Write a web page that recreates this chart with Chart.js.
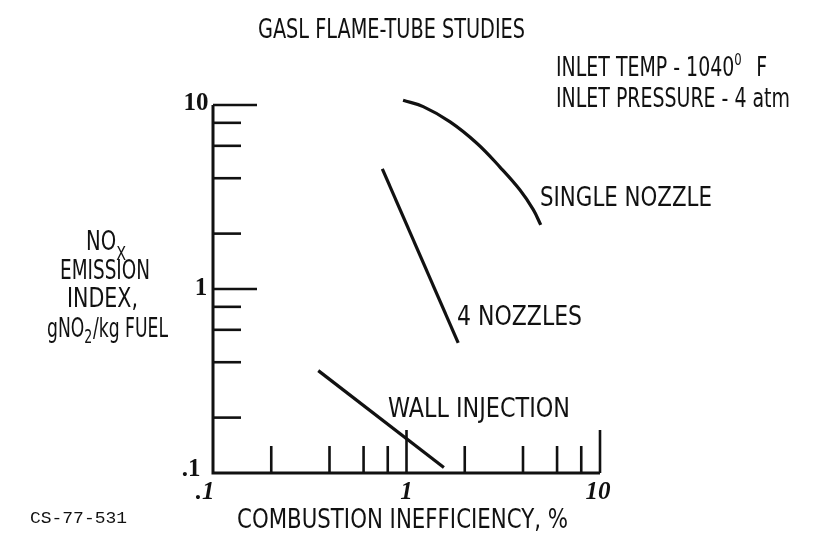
<!DOCTYPE html>
<html>
<head>
<meta charset="utf-8">
<script src="https://cdn.jsdelivr.net/npm/chart.js@4"></script>
<style>
html,body{margin:0;padding:0;background:#fff;}
#wrap{width:835px;height:538px;}
</style>
</head>
<body>
<div id="wrap"><canvas id="c" width="835" height="538"></canvas></div>
<script>
// ---- data ----
const xTickMajor = [0.1, 1, 10];
const xTickLabels = ['.1', '1', '10'];
const xTickMinor = [0.2, 0.4, 0.6, 0.8, 2, 4, 6, 8];
const yTickMajor = [0.1, 1, 10];
const yTickLabels = ['.1', '1', '10'];
const yTickMinor = [0.2, 0.4, 0.6, 0.8, 2, 4, 6, 8];

const singleNozzleX = [0.96, 1.22, 1.68, 2.31, 3.04, 3.86, 4.52, 4.94];
const singleNozzleY = [10.6, 9.8, 8.1, 6.2, 4.6, 3.45, 2.7, 2.23];
const fourNozzlesX = [0.75, 1.85];
const fourNozzlesY = [4.5, 0.51];
const wallInjectionX = [0.35, 1.56];
const wallInjectionY = [0.36, 0.107];

const seriesNames = ['SINGLE NOZZLE', '4 NOZZLES', 'WALL INJECTION'];

const INK = '#111';
const SANS = "'DejaVu Sans Condensed','DejaVu Sans',sans-serif";
const SERIF = "'Liberation Serif','DejaVu Serif',serif";
const MONO = "'Liberation Mono','DejaVu Sans Mono',monospace";

function pts(xs, ys){ return xs.map((x,i)=>({x:x, y:ys[i]})); }

function runText(ctx, segs, left, y, width, fixedScale){
  ctx.save();
  ctx.fillStyle = INK;
  ctx.textAlign = 'left';
  ctx.textBaseline = 'middle';
  let total = 0;
  segs.forEach(s=>{ ctx.font = s.font; s.w = ctx.measureText(s.t).width + (s.gap||0); total += s.w; });
  const sc = fixedScale || (width / total);
  ctx.translate(left, y);
  ctx.scale(sc, 1);
  let x = 0;
  segs.forEach(s=>{ ctx.font = s.font; ctx.fillText(s.t, x, s.dy||0); x += s.w; });
  ctx.restore();
  return sc;
}
function fitText(ctx, str, left, y, width, font){
  return runText(ctx, [{t:str, font:font}], left, y, width);
}
function plainText(ctx, str, x, y, font, align){
  ctx.save();
  ctx.font = font;
  ctx.fillStyle = INK;
  ctx.textAlign = align || 'center';
  ctx.textBaseline = 'middle';
  ctx.fillText(str, x, y);
  ctx.restore();
}

const axesPlugin = {
  id: 'handAxes',
  afterDatasetsDraw(chart){
    const ctx = chart.ctx;
    const xs = chart.scales.x, ys = chart.scales.y;
    const x0 = xs.getPixelForValue(0.1), x1 = xs.getPixelForValue(10);
    const y0 = ys.getPixelForValue(0.1), y1 = ys.getPixelForValue(10);
    ctx.save();
    ctx.strokeStyle = INK;
    ctx.lineCap = 'butt';
    ctx.lineWidth = 3;
    ctx.beginPath();
    ctx.moveTo(x0, y1); ctx.lineTo(x0, y0); ctx.lineTo(x1, y0);
    ctx.stroke();
    ctx.lineWidth = 2.6;
    yTickMajor.forEach(v=>{
      if (v === 0.1) return;
      const p = ys.getPixelForValue(v);
      ctx.beginPath(); ctx.moveTo(x0, p); ctx.lineTo(x0 + 44, p); ctx.stroke();
    });
    yTickMinor.forEach(v=>{
      const p = ys.getPixelForValue(v);
      ctx.beginPath(); ctx.moveTo(x0, p); ctx.lineTo(x0 + 28, p); ctx.stroke();
    });
    xTickMajor.forEach(v=>{
      if (v === 0.1) return;
      const p = xs.getPixelForValue(v);
      ctx.beginPath(); ctx.moveTo(p, y0); ctx.lineTo(p, y0 - 43); ctx.stroke();
    });
    xTickMinor.forEach(v=>{
      const p = xs.getPixelForValue(v);
      ctx.beginPath(); ctx.moveTo(p, y0); ctx.lineTo(p, y0 - 27); ctx.stroke();
    });
    ctx.restore();

    const tf = "bold 25px " + SERIF;
    const yOff = {0.1: [-22, -3], 1: [-12, 0], 10: [-17, -1]};
    yTickMajor.forEach((v,i)=>{
      const p = ys.getPixelForValue(v);
      plainText(ctx, yTickLabels[i], x0 + yOff[v][0], p + yOff[v][1], tf, 'center');
    });
    const xOff = {0.1: -8, 1: 0, 10: -2};
    xTickMajor.forEach((v,i)=>{
      const p = xs.getPixelForValue(v);
      plainText(ctx, xTickLabels[i], p + xOff[v], y0 + 20, "italic " + tf, 'center');
    });

    const F = "26px " + SANS;
    const Ft = "27px " + SANS;
    fitText(ctx, 'GASL FLAME-TUBE STUDIES', 258, 31, 267, Ft);
    const s = fitText(ctx, 'INLET PRESSURE - 4 atm', 556, 100, 234, F);
    runText(ctx, [{t:'INLET TEMP - 1040', font:F}, {t:'0', font:"16px " + SANS, dy:-8, gap:18}, {t:'F', font:F}], 556, 69, 0, s);

    fitText(ctx, seriesNames[0], 540, 199, 172, F);
    fitText(ctx, seriesNames[1], 457, 318, 125, F);
    fitText(ctx, seriesNames[2], 388, 410, 182, F);

    runText(ctx, [{t:'NO', font:F}, {t:'X', font:"19px " + SANS, dy:12}], 86, 243, 40);
    fitText(ctx, 'EMISSION', 60, 272, 90, F);
    fitText(ctx, 'INDEX,', 67, 300, 71, F);
    runText(ctx, [{t:'gNO', font:F}, {t:'2', font:"19px " + SANS, dy:8, gap:1}, {t:'/kg FUEL', font:F}], 47, 330, 121);

    fitText(ctx, 'COMBUSTION INEFFICIENCY, %', 237, 521, 331, F);
    fitText(ctx, 'CS-77-531', 30, 519, 97, "16px " + MONO);
  }
};

const ds = (name, xs, ys, tension) => ({
  label: name,
  data: pts(xs, ys),
  showLine: true,
  borderColor: INK,
  borderWidth: 3.2,
  pointRadius: 0,
  tension: tension,
  clip: false,
  fill: false
});

new Chart(document.getElementById('c'), {
  type: 'scatter',
  data: {
    datasets: [
      ds(seriesNames[0], singleNozzleX, singleNozzleY, 0.4),
      ds(seriesNames[1], fourNozzlesX, fourNozzlesY, 0),
      ds(seriesNames[2], wallInjectionX, wallInjectionY, 0)
    ]
  },
  options: {
    responsive: false,
    animation: false,
    devicePixelRatio: 1,
    layout: { padding: { left: 213, right: 235, top: 105, bottom: 65 } },
    scales: {
      x: { type: 'logarithmic', min: 0.1, max: 10, display: false },
      y: { type: 'logarithmic', min: 0.1, max: 10, display: false }
    },
    plugins: { legend: { display: false }, tooltip: { enabled: false }, title: { display: false } }
  },
  plugins: [axesPlugin]
});
</script>
</body>
</html>
